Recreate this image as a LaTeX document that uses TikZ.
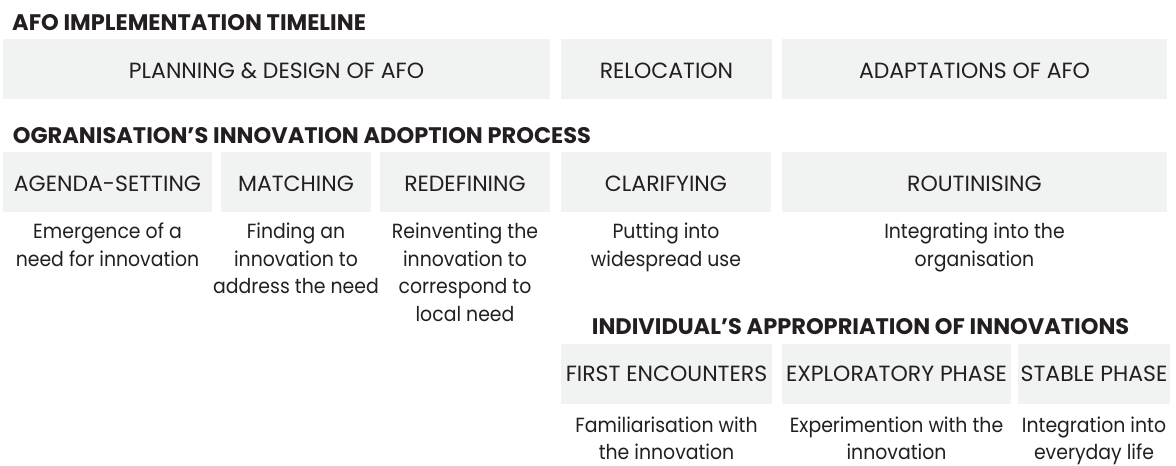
\documentclass[tikz,border=0pt]{standalone}
\usepackage{fontspec}
\setmainfont{Poppins}
\newfontfamily\notefont{Poppins}[FakeStretch=0.92]
\usepackage{xcolor}
\usetikzlibrary{positioning}

\definecolor{boxgrey}{HTML}{F1F2F2}
\definecolor{ink}{HTML}{231F20}

\tikzset{
 heading/.style={anchor=base west, inner sep=0pt, text=ink,
  font=\bfseries\fontsize{22.5}{26}\selectfont},
 phase/.style={fill=boxgrey, inner sep=0pt, outer sep=0pt, minimum height=60pt,
  text=ink, font=\fontsize{22}{26}\selectfont, text height=20.3pt, text depth=0pt},
 stage/.style={phase, text height=16.4pt},
 note/.style={align=center, inner sep=0pt, outer sep=0pt, text=ink,
  font=\notefont\fontsize{20.5}{27.7}\selectfont},
}

\begin{document}
\begin{tikzpicture}[x=1pt, y=-1pt, node distance=10pt]
 \useasboundingbox (0,0) rectangle (1176,466);

 % AFO timeline
 \node[heading] (afo) at (12,30) {AFO IMPLEMENTATION TIMELINE};
 \node[phase, minimum width=547pt, anchor=west] (plan) at (3,68.75) {PLANNING \& DESIGN OF AFO};
 \node[phase, minimum width=211pt] (reloc) [right=11pt of plan] {RELOCATION};
 \node[phase, minimum width=385pt] (adapt) [right=10pt of reloc] {ADAPTATIONS OF AFO};

 % organisation
 \node[heading] (org) at (12.7,143.3) {OGRANISATION’S INNOVATION ADOPTION PROCESS};
 \node[phase, minimum width=209pt, anchor=west] (agenda) at (3,181.7) {AGENDA-SETTING};
 \node[phase, minimum width=150pt] (match) [right=9pt of agenda] {MATCHING};
 \node[phase, minimum width=170pt] (redef) [right=9pt of match] {REDEFINING};
 \node[phase, minimum width=210pt] (clarify) [right=11pt of redef] {CLARIFYING};
 \node[phase, minimum width=385pt] (routine) [right=11pt of clarify] {ROUTINISING};

 \node[note] (agendatxt) [below=11pt of agenda] {Emergence of a\\need for innovation};
 \node[note] (matchtxt) [below=11pt of match] {Finding an\\innovation to\\address the need};
 \node[note] (redeftxt) [below=11pt of redef] {Reinventing the\\innovation to\\correspond to\\local need};
 \node[note] (clarifytxt) [below=11pt of clarify] {Putting into\\widespread use};
 \node[note] (routinetxt) [below=11pt of routine] {Integrating into the\\organisation};

 % individual
 \node[heading] (ind) at (591.7,334) {INDIVIDUAL’S APPROPRIATION OF INNOVATIONS};
 \node[stage, minimum width=211pt, anchor=west] (first) at (561,373.5) {FIRST ENCOUNTERS};
 \node[stage, minimum width=229pt] (explore) [right=10pt of first] {EXPLORATORY PHASE};
 \node[stage, minimum width=152pt] (stable) [right=7pt of explore] {STABLE PHASE};

 \node[note] (firsttxt) [below=13pt of first] {Familiarisation with\\the innovation};
 \node[note] (exploretxt) [below=13pt of explore] {Experimention with the\\innovation};
 \node[note] (stabletxt) [below=13pt of stable] {Integration into\\everyday life};
\end{tikzpicture}
\end{document}
